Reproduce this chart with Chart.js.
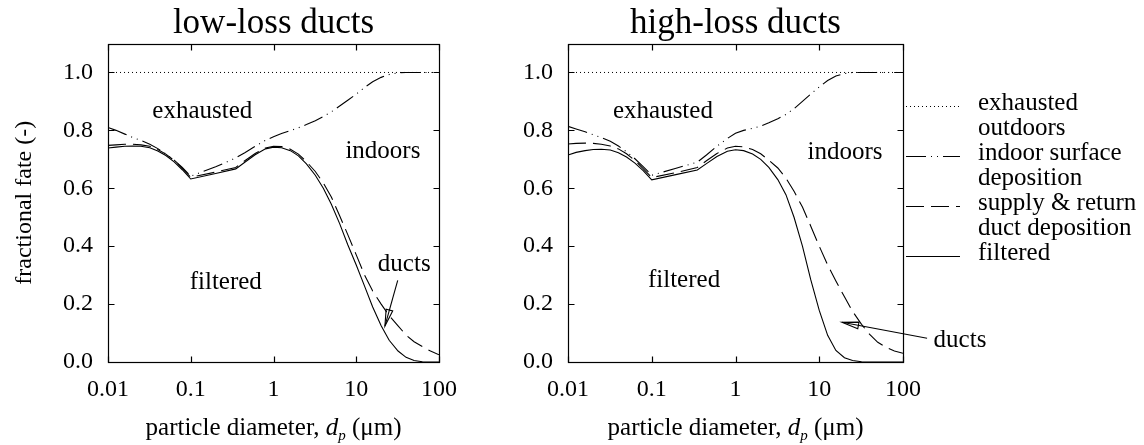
<!DOCTYPE html>
<html>
<head>
<meta charset="utf-8">
<script src="https://cdn.jsdelivr.net/npm/chart.js@4/dist/chart.umd.min.js"></script>
<style>
  html, body { margin: 0; padding: 0; background: #fff; }
  #wrap { position: relative; width: 1144px; height: 445px; overflow: hidden; background: #fff; }
  canvas { position: absolute; top: 0; }
  #low { left: 0; }
  #high { left: 470px; }
</style>
</head>
<body>
<div id="wrap">
  <canvas id="low" width="470" height="445"></canvas>
  <canvas id="high" width="674" height="445"></canvas>
</div>
<script>
// Particle diameters (µm) at which the cumulative fate boundaries are given
const diameters = [0.01, 0.0125, 0.016, 0.02, 0.025, 0.032, 0.04, 0.05, 0.063, 0.079,
                   0.1, 0.2, 0.35, 0.45, 0.6, 0.8,
                   1, 1.25, 1.6, 2, 2.5, 3.2, 4, 5, 6.3, 7.9,
                   10, 12.6, 15.8, 20, 25, 32, 40, 50, 63, 79,
                   100];

// Low-loss ducts: cumulative fractions (filtered, + duct deposition, + indoor surfaces)
const lowFiltered = [0.739, 0.742, 0.745, 0.746, 0.745, 0.740, 0.729, 0.713, 0.691, 0.664,
                     0.632, 0.651, 0.667, 0.690, 0.716, 0.736,
                     0.742, 0.740, 0.730, 0.712, 0.684, 0.645, 0.600, 0.545, 0.478, 0.405,
                     0.335, 0.262, 0.190, 0.125, 0.075, 0.038, 0.016, 0.005, 0.001, 0.000,
                     0.000];
const lowDucts = [0.748, 0.750, 0.752, 0.752, 0.750, 0.745, 0.734, 0.718, 0.696, 0.669,
                  0.638, 0.656, 0.672, 0.695, 0.720, 0.739,
                  0.745, 0.744, 0.735, 0.718, 0.692, 0.658, 0.618, 0.570, 0.505, 0.440,
                  0.370, 0.300, 0.245, 0.200, 0.160, 0.125, 0.093, 0.070, 0.053, 0.038,
                  0.025];
const lowIndoor = [0.810, 0.800, 0.787, 0.775, 0.765, 0.752, 0.737, 0.719, 0.697, 0.672,
                   0.642, 0.674, 0.705, 0.723, 0.745, 0.766,
                   0.778, 0.789, 0.799, 0.809, 0.820, 0.833, 0.848, 0.864, 0.884, 0.904,
                   0.925, 0.948, 0.968, 0.983, 0.993, 0.999, 1.000, 1.000, 1.000, 1.000,
                   1.000];

// High-loss ducts
const highFiltered = [0.715, 0.724, 0.730, 0.734, 0.735, 0.732, 0.723, 0.708, 0.687, 0.661,
                      0.629, 0.648, 0.663, 0.685, 0.710, 0.728,
                      0.733, 0.730, 0.718, 0.700, 0.672, 0.630, 0.578, 0.500, 0.400, 0.285,
                      0.178, 0.092, 0.040, 0.015, 0.005, 0.001, 0.000, 0.000, 0.000, 0.000,
                      0.000];
const highDucts = [0.753, 0.755, 0.756, 0.755, 0.752, 0.746, 0.736, 0.719, 0.696, 0.668,
                   0.637, 0.655, 0.672, 0.695, 0.720, 0.739,
                   0.745, 0.743, 0.734, 0.719, 0.697, 0.670, 0.635, 0.590, 0.535, 0.470,
                   0.400, 0.335, 0.280, 0.225, 0.175, 0.130, 0.095, 0.068, 0.050, 0.038,
                   0.030];
const highIndoor = [0.814, 0.805, 0.795, 0.785, 0.775, 0.762, 0.746, 0.726, 0.702, 0.675,
                    0.645, 0.670, 0.690, 0.715, 0.745, 0.772,
                    0.790, 0.800, 0.807, 0.815, 0.826, 0.840, 0.855, 0.875, 0.900, 0.925,
                    0.950, 0.972, 0.988, 0.996, 1.000, 1.000, 1.000, 1.000, 1.000, 1.000,
                    1.000];

// Everything not deposited or filtered is exhausted: top boundary at 1
const exhaustedDiameters = [0.01, 100];
const exhaustedValues = [1.0, 1.0];

// Axis ticks
const xTickValues = [0.01, 0.1, 1, 10, 100];
const xTickLabels = ['0.01', '0.1', '1', '10', '100'];
const yTickValues = [0, 0.2, 0.4, 0.6, 0.8, 1.0];
const yTickLabels = ['0.0', '0.2', '0.4', '0.6', '0.8', '1.0'];

// Series names and their legend line breaks
const seriesNames = ['exhausted outdoors', 'indoor surface deposition', 'supply & return duct deposition', 'filtered'];
const legendLines = [['exhausted', 'outdoors'], ['indoor surface', 'deposition'], ['supply & return', 'duct deposition'], ['filtered']];

const SERIF = "'Liberation Serif', 'Times New Roman', serif";
const INK = '#000';

const styles = [
  { borderDash: [1, 3], borderWidth: 1 },                 // exhausted (dotted)
  { borderDash: [20, 5, 1, 5, 1, 5], borderWidth: 1.1 },  // indoor (dash-dot-dot)
  { borderDash: [18, 7], borderWidth: 1.1 },              // ducts (dashed)
  { borderDash: [], borderWidth: 1.1 }                    // filtered (solid)
];

function pairs(xs, ys) { return xs.map((x, i) => ({ x: x, y: ys[i] })); }

// Box around the plotting area with inward tick marks on all four sides
const framePlugin = {
  id: 'frame',
  afterDatasetsDraw(chart) {
    const { ctx, chartArea: a, scales: { x, y } } = chart;
    const T = 6;
    const L = Math.round(a.left) + 0.5, R = Math.round(a.right) + 0.5;
    const Tp = Math.round(a.top) + 0.5, B = Math.round(a.bottom) + 0.5;
    ctx.save();
    ctx.strokeStyle = INK;
    ctx.lineWidth = 1.2;
    ctx.setLineDash([]);
    ctx.strokeRect(L, Tp, R - L, B - Tp);
    ctx.beginPath();
    x.ticks.forEach(t => {
      const px = Math.round(x.getPixelForValue(t.value)) + 0.5;
      ctx.moveTo(px, B); ctx.lineTo(px, B - T);
      ctx.moveTo(px, Tp); ctx.lineTo(px, Tp + T);
    });
    y.ticks.forEach(t => {
      const py = Math.round(y.getPixelForValue(t.value)) + 0.5;
      ctx.moveTo(L, py); ctx.lineTo(L + T, py);
      ctx.moveTo(R, py); ctx.lineTo(R - T, py);
    });
    ctx.stroke();
    ctx.restore();
  }
};

// x-axis title with italic subscripted symbol
const xTitlePlugin = {
  id: 'xTitle',
  afterDraw(chart) {
    const { ctx, chartArea: a } = chart;
    const parts = [
      { t: 'particle diameter, ', f: `25px ${SERIF}`, dy: 0 },
      { t: 'd', f: `italic 25px ${SERIF}`, dy: 0 },
      { t: 'p', f: `italic 15px ${SERIF}`, dy: 5 },
      { t: ' (\u03BCm)', f: `25px ${SERIF}`, dy: 0 }
    ];
    ctx.save();
    ctx.fillStyle = INK;
    ctx.textBaseline = 'alphabetic';
    ctx.textAlign = 'left';
    let w = 0;
    parts.forEach(p => { ctx.font = p.f; p.w = ctx.measureText(p.t).width; w += p.w; });
    let x = (a.left + a.right) / 2 - w / 2;
    const base = 435;
    parts.forEach(p => { ctx.font = p.f; ctx.fillText(p.t, x, base + p.dy); x += p.w; });
    ctx.restore();
  }
};

// Region labels and pointer arrows, positioned in data coordinates
const notesPlugin = {
  id: 'notes',
  afterDraw(chart, args, opts) {
    const { ctx, scales: { x, y } } = chart;
    ctx.save();
    ctx.fillStyle = INK;
    ctx.strokeStyle = INK;
    ctx.font = `25px ${SERIF}`;
    ctx.textAlign = 'center';
    ctx.textBaseline = 'alphabetic';
    (opts.labels || []).forEach(n => {
      ctx.fillText(n.text, x.getPixelForValue(n.x), y.getPixelForValue(n.y));
    });
    (opts.arrows || []).forEach(ar => {
      const x0 = x.getPixelForValue(ar.from[0]), y0 = y.getPixelForValue(ar.from[1]);
      const x1 = x.getPixelForValue(ar.to[0]), y1 = y.getPixelForValue(ar.to[1]);
      const ang = Math.atan2(y0 - y1, x0 - x1);
      const len = 17, spread = 0.2;
      ctx.setLineDash([]);
      ctx.lineWidth = 1.1;
      ctx.beginPath();
      ctx.moveTo(x0, y0); ctx.lineTo(x1, y1);
      ctx.stroke();
      ctx.beginPath();
      ctx.moveTo(x1 + len * Math.cos(ang + spread), y1 + len * Math.sin(ang + spread));
      ctx.lineTo(x1, y1);
      ctx.lineTo(x1 + len * Math.cos(ang - spread), y1 + len * Math.sin(ang - spread));
      ctx.closePath();
      ctx.stroke();
    });
    ctx.restore();
  }
};

// Line-style key listed beside the high-loss panel
const keyPlugin = {
  id: 'key',
  afterDraw(chart, args, opts) {
    if (!opts.show) return;
    const { ctx, chartArea: a } = chart;
    const x0 = a.right + 3, x1 = a.right + 57, tx = a.right + 75;
    let base = 110;
    const step = 25;
    ctx.save();
    ctx.fillStyle = INK;
    ctx.strokeStyle = INK;
    ctx.font = `25px ${SERIF}`;
    ctx.textAlign = 'left';
    ctx.textBaseline = 'alphabetic';
    chart.data.datasets.forEach((ds, i) => {
      const ly = Math.round(base - 4) + 0.5;
      ctx.setLineDash(ds.borderDash || []);
      ctx.lineWidth = 1;
      ctx.beginPath();
      ctx.moveTo(x0, ly); ctx.lineTo(x1, ly);
      ctx.stroke();
      legendLines[i].forEach((line, j) => {
        ctx.fillText(line, tx, base + j * step);
      });
      base += legendLines[i].length * step;
    });
    ctx.restore();
  }
};

function makeChart(id, title, series, notes, showYTitle, yAxisWidth, padRight, showKey) {
  const data = [pairs(exhaustedDiameters, exhaustedValues)].concat(series.map(s => pairs(diameters, s)));
  const datasets = data.map((d, i) => ({
    label: seriesNames[i],
    data: d,
    borderColor: INK,
    borderWidth: styles[i].borderWidth,
    borderDash: styles[i].borderDash,
    pointRadius: 0,
    tension: 0,
    fill: false
  }));
  return new Chart(document.getElementById(id), {
    type: 'line',
    data: { datasets: datasets },
    options: {
      responsive: false,
      animation: false,
      devicePixelRatio: 1,
      layout: { padding: { left: 0, right: padRight, top: 0, bottom: 0 } },
      plugins: {
        legend: { display: false },
        tooltip: { enabled: false },
        title: {
          display: true, text: title, fullSize: false, color: INK,
          font: { family: SERIF, size: 35, weight: 'normal', lineHeight: 1.1 },
          padding: { top: 5, bottom: 0 }
        },
        notes: notes,
        key: { show: showKey }
      },
      scales: {
        x: {
          type: 'logarithmic', min: 0.01, max: 100,
          afterBuildTicks: s => { s.ticks = xTickValues.map(v => ({ value: v })); },
          afterFit: s => { s.height = 83; },
          grid: { display: false, drawTicks: false },
          border: { display: false },
          ticks: {
            color: INK, padding: 13, maxRotation: 0, autoSkip: false,
            font: { family: SERIF, size: 24 },
            callback: (v, i) => xTickLabels[i]
          }
        },
        y: {
          type: 'linear', min: 0, max: 1.1,
          afterBuildTicks: s => { s.ticks = yTickValues.map(v => ({ value: v })); },
          afterFit: s => { s.width = yAxisWidth; },
          grid: { display: false, drawTicks: false },
          border: { display: false },
          ticks: {
            color: INK, padding: 15, autoSkip: false,
            font: { family: SERIF, size: 24 },
            callback: (v, i) => yTickLabels[i]
          },
          title: {
            display: showYTitle, text: 'fractional fate (-)', color: INK,
            font: { family: SERIF, size: 24 },
            padding: { top: 10, bottom: 0 }
          }
        }
      }
    },
    plugins: [framePlugin, xTitlePlugin, notesPlugin, keyPlugin]
  });
}

makeChart('low', 'low-loss ducts', [lowIndoor, lowDucts, lowFiltered], {
  labels: [
    { text: 'exhausted', x: 0.138, y: 0.842 },
    { text: 'indoors', x: 21, y: 0.704 },
    { text: 'filtered', x: 0.265, y: 0.251 },
    { text: 'ducts', x: 38, y: 0.313 }
  ],
  arrows: [{ from: [31.7, 0.282], to: [22.2, 0.124] }]
}, true, 108, 25, false);

makeChart('high', 'high-loss ducts', [highIndoor, highDucts, highFiltered], {
  labels: [
    { text: 'exhausted', x: 0.136, y: 0.842 },
    { text: 'indoors', x: 20.3, y: 0.701 },
    { text: 'filtered', x: 0.243, y: 0.258 },
    { text: 'ducts', x: 479, y: 0.052 }
  ],
  arrows: [{ from: [194, 0.082], to: [18.7, 0.137] }]
}, false, 98, 241, true);
</script>
</body>
</html>
